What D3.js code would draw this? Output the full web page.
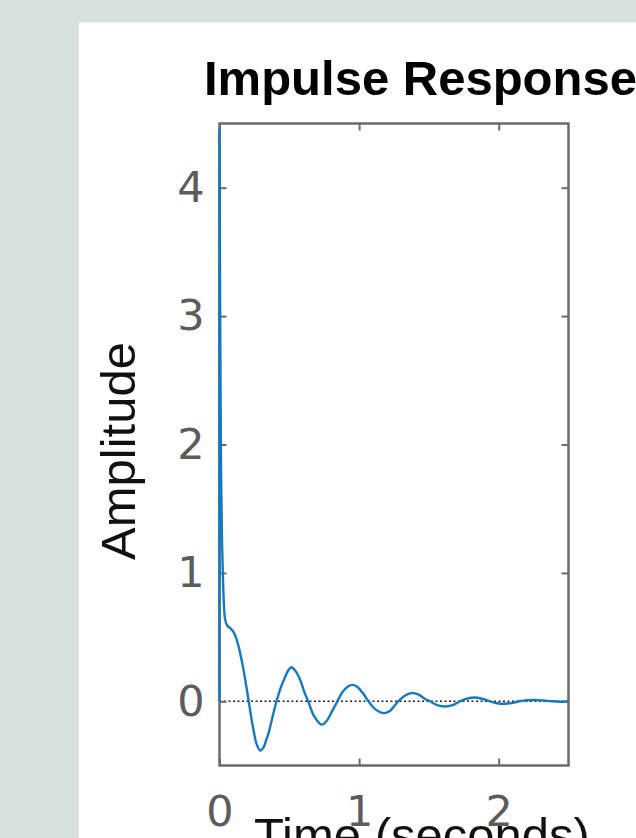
<!DOCTYPE html>
<html>
<head>
<meta charset="utf-8">
<script src="https://cdn.jsdelivr.net/npm/d3@7"></script>
<style>
  html, body { margin: 0; padding: 0; background: #d6e0df; }
  svg { display: block; }
</style>
</head>
<body>
<svg id="chart" width="636" height="838"></svg>
<script>
// ---- data ----
const titleText = "Impulse Response";
const xLabelText = "Time (seconds)";
const yLabelText = "Amplitude";
const xTicks = [0, 1, 2];
const yTicks = [0, 1, 2, 3, 4];
const xDomain = [0, 2.5];
const yDomain = [-0.5, 4.5];

const time = [0, 0, 0.004, 0.008, 0.012, 0.018, 0.025, 0.032, 0.04, 0.055, 0.077, 0.10, 0.12, 0.136, 0.155, 0.172, 0.19, 0.208, 0.225, 0.243, 0.265, 0.291, 0.315, 0.335, 0.351, 0.38, 0.411, 0.44, 0.47, 0.495, 0.515, 0.545, 0.578, 0.605, 0.635, 0.68, 0.733, 0.77, 0.80, 0.845, 0.88, 0.92, 0.955, 0.99, 1.03, 1.067, 1.12, 1.174, 1.22, 1.28, 1.33, 1.36, 1.389, 1.43, 1.47, 1.508, 1.56, 1.616, 1.67, 1.723, 1.77, 1.83, 1.88, 1.938, 1.99, 2.045, 2.10, 2.15, 2.20, 2.26, 2.32, 2.38, 2.44, 2.5];
const amplitude = [0, 4.45, 3.2, 2.3, 1.7, 1.25, 0.95, 0.75, 0.64, 0.59, 0.57, 0.54, 0.49, 0.43, 0.34, 0.245, 0.13, 0.01, -0.11, -0.22, -0.33, -0.383, -0.36, -0.30, -0.25, -0.12, 0.01, 0.11, 0.19, 0.245, 0.265, 0.235, 0.167, 0.08, 0.0, -0.12, -0.182, -0.15, -0.09, 0.0, 0.07, 0.115, 0.128, 0.11, 0.06, 0.0, -0.065, -0.092, -0.075, 0.0, 0.045, 0.06, 0.064, 0.05, 0.02, 0.0, -0.03, -0.040, -0.03, 0.0, 0.02, 0.03, 0.02, 0.0, -0.015, -0.019, -0.012, 0.0, 0.008, 0.01, 0.006, 0.0, -0.003, -0.002];

(function () {
  const svg = d3.select("#chart");
  const W = 636, H = 838;
  const pLeft = 219.5, pRight = 568.5, pTop = 123.5, pBottom = 765.5;

  svg.append("rect").attr("x", 0).attr("y", 0).attr("width", W).attr("height", H).attr("fill", "#d6e0df");
  svg.append("rect").attr("x", 79).attr("y", 22.5).attr("width", W - 79).attr("height", H - 22.5).attr("fill", "#ffffff");

  const x = d3.scaleLinear().domain(xDomain).range([pLeft, pRight]);
  const y = d3.scaleLinear().domain(yDomain).range([pBottom, pTop]);

  // zero line (dotted)
  svg.append("line")
    .attr("x1", x(xDomain[0])).attr("x2", x(xDomain[1]))
    .attr("y1", y(0)).attr("y2", y(0))
    .attr("stroke", "#222").attr("stroke-width", 1.6)
    .attr("stroke-dasharray", "2,2.5");

  const lineGen = d3.line()
    .x((d, i) => x(time[i]))
    .y(d => y(d))
    .curve(d3.curveCatmullRom.alpha(0.5));

  const tickColor = "#6a6a6a";
  const labelColor = "#5c5c5c";
  const tickFont = "'DejaVu Sans', sans-serif";

  function styleAxis(g) {
    g.select(".domain").remove();
    g.selectAll(".tick line").attr("stroke", tickColor).attr("stroke-width", 2);
    g.selectAll(".tick text").attr("fill", labelColor).style("font-family", tickFont).style("font-size", "43px");
  }

  svg.append("g").attr("transform", `translate(${pLeft},0)`)
    .call(d3.axisLeft(y).tickValues(yTicks).tickSize(-7).tickPadding(15).tickFormat(d3.format("d")))
    .call(styleAxis);

  svg.append("g").attr("transform", `translate(0,${pBottom})`)
    .call(d3.axisBottom(x).tickValues(xTicks).tickSize(-7).tickPadding(30).tickFormat(d3.format("d")))
    .call(styleAxis);

  svg.append("g").attr("transform", `translate(${pRight},0)`)
    .call(d3.axisRight(y).tickValues(yTicks).tickSize(-7).tickFormat(""))
    .call(styleAxis);

  svg.append("g").attr("transform", `translate(0,${pTop})`)
    .call(d3.axisTop(x).tickValues(xTicks).tickSize(-7).tickFormat(""))
    .call(styleAxis);

  // box
  svg.append("rect")
    .attr("x", pLeft).attr("y", pTop).attr("width", pRight - pLeft).attr("height", pBottom - pTop)
    .attr("fill", "none").attr("stroke", tickColor).attr("stroke-width", 2.5);

  // curve (drawn over the box so the impulse at t=0 is visible on the left edge)
  svg.append("path")
    .datum(amplitude)
    .attr("d", lineGen)
    .attr("fill", "none")
    .attr("stroke", "#1479c0")
    .attr("stroke-width", 2.4)
    .attr("stroke-linejoin", "round");

  // title
  svg.append("text")
    .attr("x", 204).attr("y", 94.5)
    .attr("fill", "#000")
    .style("font-family", "'Liberation Sans', Arial, sans-serif")
    .style("font-weight", "bold")
    .style("font-size", "49px")
    .text(titleText);

  // y label
  svg.append("text")
    .attr("transform", "translate(134.5,451) rotate(-90)")
    .attr("text-anchor", "middle")
    .attr("fill", "#111")
    .style("font-family", "'Liberation Sans', Arial, sans-serif")
    .style("font-size", "49px")
    .text(yLabelText);

  // x label
  svg.append("text")
    .attr("x", 254).attr("y", 852)
    .attr("fill", "#111")
    .style("font-family", "'Liberation Sans', Arial, sans-serif")
    .style("font-size", "49px")
    .text(xLabelText);
})();
</script>
</body>
</html>
